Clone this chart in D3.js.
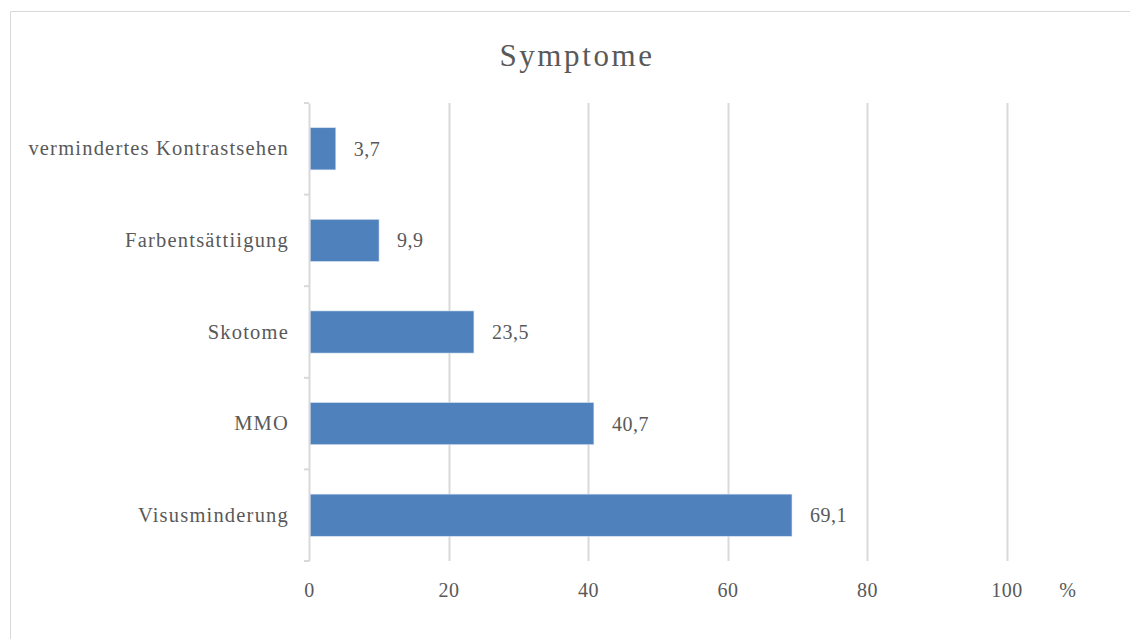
<!DOCTYPE html>
<html>
<head>
<meta charset="utf-8">
<script src="https://cdn.jsdelivr.net/npm/d3@7"></script>
<style>
  body { margin: 0; background: #fff; }
  text { font-family: "Liberation Serif", serif; fill: #595959; }
</style>
</head>
<body>
<svg id="chart"></svg>
<script>
// Data
const categories = ["vermindertes Kontrastsehen", "Farbentsättiigung", "Skotome", "MMO", "Visusminderung"];
const values = [3.7, 9.9, 23.5, 40.7, 69.1];
const xTicks = [0, 20, 40, 60, 80, 100];
const title = "Symptome";
const unitLabel = "%";

const width = 1130;
const height = 639;
const margin = { top: 103, right: 123, bottom: 78, left: 309 };

const svg = d3.select("#chart")
    .attr("width", width)
    .attr("height", height);

// Chart frame (right and bottom edges run off the page)
svg.append("path")
    .attr("d", `M${width},11.5 H10.5 V${height}`)
    .attr("fill", "none")
    .attr("stroke", "#d9d9d9")
    .attr("stroke-width", 1);

const innerWidth = width - margin.left - margin.right;
const innerHeight = height - margin.top - margin.bottom;

const g = svg.append("g")
    .attr("transform", `translate(${margin.left},${margin.top})`);

const xScale = d3.scaleLinear()
    .domain([0, 100])
    .range([0, 697.5]);

const yScale = d3.scaleBand()
    .domain(categories)
    .range([0, innerHeight])
    .paddingInner(0.54)
    .paddingOuter(0.27);

// Gridlines
g.selectAll(".grid")
    .data(xTicks.filter(d => d > 0))
    .enter()
    .append("line")
    .attr("class", "grid")
    .attr("x1", d => Math.round(xScale(d)) + 0.5)
    .attr("x2", d => Math.round(xScale(d)) + 0.5)
    .attr("y1", 0)
    .attr("y2", innerHeight)
    .attr("stroke", "#d9d9d9")
    .attr("stroke-width", 2);

// Bars
g.selectAll(".bar")
    .data(values)
    .enter()
    .append("rect")
    .attr("class", "bar")
    .attr("x", xScale(0) + 1)
    .attr("y", (d, i) => yScale(categories[i]))
    .attr("width", d => xScale(d) - xScale(0))
    .attr("height", yScale.bandwidth())
    .attr("fill", "#4f81bd")
    .attr("stroke", "#d6e2f0")
    .attr("stroke-width", 0.6);

// Value labels
g.selectAll(".val")
    .data(values)
    .enter()
    .append("text")
    .attr("class", "val")
    .attr("x", d => xScale(d) + 19)
    .attr("y", (d, i) => yScale(categories[i]) + yScale.bandwidth() / 2)
    .attr("dy", "0.35em")
    .attr("font-size", 20)
    .attr("letter-spacing", 0.5)
    .text(d => d.toFixed(1).replace(".", ","));

// Category axis (left)
const yAxis = g.append("g")
    .call(d3.axisLeft(yScale).tickSize(0).tickPadding(20));
yAxis.select(".domain")
    .attr("stroke", "#d9d9d9")
    .attr("stroke-width", 2);
yAxis.selectAll("text")
    .attr("font-size", 20.5)
    .attr("letter-spacing", 1.2)
    .attr("font-family", "Liberation Serif")
    .attr("fill", "#595959");

// Boundary ticks between categories
const boundaries = d3.range(categories.length + 1).map(i => i * innerHeight / categories.length);
g.selectAll(".cat-tick")
    .data(boundaries)
    .enter()
    .append("line")
    .attr("x1", -5)
    .attr("x2", 0)
    .attr("y1", d => d)
    .attr("y2", d => d)
    .attr("stroke", "#d9d9d9")
    .attr("stroke-width", 2);

// Value axis (bottom), labels only
const xAxis = g.append("g")
    .attr("transform", `translate(0,${innerHeight})`)
    .call(d3.axisBottom(xScale).tickValues(xTicks).tickSize(0).tickPadding(22));
xAxis.select(".domain").remove();
xAxis.selectAll("text")
    .attr("font-size", 20)
    .attr("letter-spacing", 0.5)
    .attr("font-family", "Liberation Serif")
    .attr("fill", "#595959");

// Unit label
g.append("text")
    .attr("x", xScale(100) + 61)
    .attr("y", innerHeight + 29)
    .attr("dy", "0.35em")
    .attr("text-anchor", "middle")
    .attr("font-size", 20)
    .text(unitLabel);

// Title
svg.append("text")
    .attr("x", 577)
    .attr("y", 55)
    .attr("dy", "0.35em")
    .attr("text-anchor", "middle")
    .attr("font-size", 31)
    .attr("letter-spacing", 2.6)
    .text(title);
</script>
</body>
</html>
